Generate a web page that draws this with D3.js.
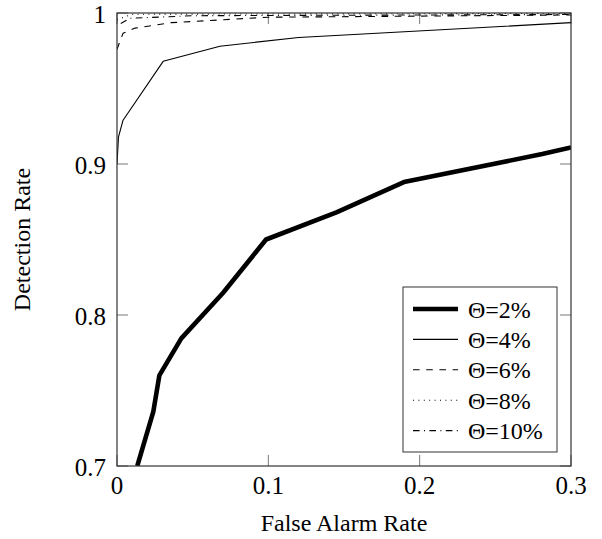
<!DOCTYPE html>
<html>
<head>
<meta charset="utf-8">
<script src="https://cdn.jsdelivr.net/npm/d3@7"></script>
<style>
  body { margin: 0; background: #fff; }
  text { font-family: "Liberation Serif", "DejaVu Serif", serif; fill: #000; }
</style>
</head>
<body>
<div id="chartContainer"></div>
<script>
// series names and values (false alarm rate, detection rate)
var seriesNames = ["Θ=2%", "Θ=4%", "Θ=6%", "Θ=8%", "Θ=10%"];
var theta2 = [[0.0134, 0.70], [0.024, 0.736], [0.028, 0.760], [0.0425, 0.7845], [0.070, 0.8146],
              [0.0985, 0.850], [0.145, 0.868], [0.1896, 0.888], [0.281, 0.9066], [0.3, 0.911]];
var theta4 = [[0, 0.90], [0.001, 0.918], [0.004, 0.929], [0.0305, 0.968], [0.068, 0.978],
              [0.12, 0.9838], [0.3, 0.9936]];
var theta6 = [[0, 0.976], [0.004, 0.9866], [0.012, 0.990], [0.036, 0.9936], [0.1, 0.9972], [0.3, 0.9987]];
var theta8 = [[0, 0.9955], [0.01, 0.9992], [0.3, 0.9997]];
var theta10 = [[0.0025, 0.993], [0.0086, 0.9965], [0.05, 0.9982], [0.3, 0.9990]];
var xTicks = [0, 0.1, 0.2, 0.3];
var yTicks = [0.7, 0.8, 0.9, 1];

var allSeries = [theta2, theta4, theta6, theta8, theta10];
var styles = [
  {width: 4.6, dash: null},
  {width: 1.1, dash: null},
  {width: 1.1, dash: "6.6,6.6"},
  {width: 1.1, dash: "1,4.4"},
  {width: 1.1, dash: "6.6,4.4,1,4.4"}
];

var W = 602, H = 539;
var margin = {top: 13, right: 31, bottom: 73, left: 117};
var width = W - margin.left - margin.right;   // 454
var height = H - margin.top - margin.bottom;  // 453

var svg = d3.select("#chartContainer").append("svg")
    .attr("width", W).attr("height", H);

var x = d3.scaleLinear().domain([0, 0.3]).range([margin.left, margin.left + width]);
var y = d3.scaleLinear().domain([0.7, 1]).range([margin.top + height, margin.top]);

svg.append("clipPath").attr("id", "plotClip")
  .append("rect")
    .attr("x", margin.left).attr("y", margin.top)
    .attr("width", width).attr("height", height);

// ticks inside the frame, on all four sides
var tickLen = 11;
var tickColor = "#777";
var g = svg.append("g");
xTicks.forEach(function(t) {
  g.append("line").attr("x1", x(t)).attr("x2", x(t))
    .attr("y1", y(0.7)).attr("y2", y(0.7) - tickLen).attr("stroke", tickColor);
  g.append("line").attr("x1", x(t)).attr("x2", x(t))
    .attr("y1", y(1)).attr("y2", y(1) + tickLen).attr("stroke", tickColor);
  svg.append("text").attr("x", x(t)).attr("y", y(0.7) + 28)
    .attr("text-anchor", "middle").attr("font-size", 25)
    .text(d3.format("")(t));
});
yTicks.forEach(function(t) {
  g.append("line").attr("x1", x(0)).attr("x2", x(0) + tickLen)
    .attr("y1", y(t)).attr("y2", y(t)).attr("stroke", tickColor);
  g.append("line").attr("x1", x(0.3)).attr("x2", x(0.3) - tickLen)
    .attr("y1", y(t)).attr("y2", y(t)).attr("stroke", tickColor);
  svg.append("text").attr("x", x(0) - 11).attr("y", y(t))
    .attr("dy", "0.38em")
    .attr("text-anchor", "end").attr("font-size", 25)
    .text(d3.format("")(t));
});

var line = d3.line()
    .x(function(d) { return x(d[0]); })
    .y(function(d) { return y(d[1]); });

var lines = svg.append("g").attr("clip-path", "url(#plotClip)");
allSeries.forEach(function(s, i) {
  lines.append("path")
    .attr("d", line(s))
    .attr("fill", "none")
    .attr("stroke", "#000")
    .attr("stroke-width", styles[i].width)
    .attr("stroke-linejoin", "round")
    .attr("stroke-dasharray", styles[i].dash);
});

// frame
svg.append("rect")
  .attr("x", margin.left).attr("y", margin.top)
  .attr("width", width).attr("height", height)
  .attr("fill", "none").attr("stroke", "#333").attr("stroke-width", 1.2);

// axis titles
svg.append("text")
  .attr("x", margin.left + width / 2).attr("y", 531)
  .attr("text-anchor", "middle").attr("font-size", 24)
  .text("False Alarm Rate");
svg.append("text")
  .attr("transform", "translate(30," + (margin.top + height / 2) + ") rotate(-90)")
  .attr("text-anchor", "middle").attr("font-size", 24)
  .text("Detection Rate");

// legend
var leg = svg.append("g");
leg.append("rect")
  .attr("x", 403).attr("y", 287).attr("width", 154).attr("height", 165)
  .attr("fill", "#fff").attr("stroke", "#333").attr("stroke-width", 1);
seriesNames.forEach(function(name, i) {
  var ly = 309 + i * 30.4;
  leg.append("line")
    .attr("x1", 413).attr("x2", 458).attr("y1", ly).attr("y2", ly)
    .attr("stroke", "#000")
    .attr("stroke-width", styles[i].width)
    .attr("stroke-dasharray", styles[i].dash);
  leg.append("text")
    .attr("x", 468).attr("y", ly).attr("dy", "0.36em")
    .attr("font-size", 24)
    .text(name);
});
</script>
</body>
</html>
